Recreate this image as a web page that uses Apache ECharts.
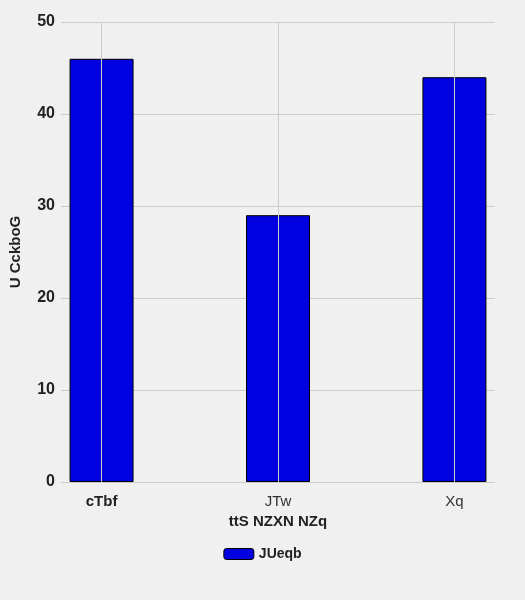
<!DOCTYPE html>
<html>
<head>
<meta charset="utf-8">
<title>Bar</title>
<script src="https://cdn.jsdelivr.net/npm/echarts@6/dist/echarts.min.js"></script>
</head>
<body style="margin:0;background:#f0f0f0">
<div id="container" style="width:525px;height:600px"></div>
<script>
var categories = ['cTbf', 'JTw', 'Xq'];
var values = [46, 29, 44];
var seriesName = 'JUeqb';
var xTitle = 'ttS NZXN NZq';
var yTitle = 'U CckboG';

var chart = echarts.init(document.getElementById('container'));
var barData = values.map(function (v, i) { return [i, v]; });
var gridLines = categories.map(function (c, i) { return {xAxis: i}; });

chart.setOption({
    backgroundColor: '#f0f0f0',
    animation: false,
    textStyle: {fontFamily: 'Liberation Sans, Arial, sans-serif'},
    grid: {left: 60, right: 30, top: 22, bottom: 118},
    legend: {
        bottom: 34, left: 'center',
        itemWidth: 30, itemHeight: 11,
        textStyle: {fontSize: 14, fontWeight: 'bold', color: '#222'},
        data: [{name: seriesName, itemStyle: {borderColor: '#000', borderWidth: 1}}]
    },
    xAxis: {
        type: 'value', min: -0.23, max: 2.23,
        name: xTitle, nameLocation: 'middle', nameGap: 32,
        nameTextStyle: {fontSize: 15, fontWeight: 'bold', color: '#222'},
        axisLine: {show: false}, axisTick: {show: false}, splitLine: {show: false},
        axisLabel: {
            customValues: [0, 1, 2], fontSize: 15, color: '#333', margin: 12,
            formatter: function (v) {
                var i = Math.round(v);
                return i === 0 ? '{b|' + categories[i] + '}' : categories[i];
            },
            rich: {b: {fontWeight: 'bold', fontSize: 15, color: '#222'}}
        }
    },
    yAxis: {
        type: 'value', min: 0, max: 50, interval: 10,
        name: yTitle, nameLocation: 'middle', nameGap: 38,
        nameTextStyle: {fontSize: 15, fontWeight: 'bold', color: '#222'},
        axisLine: {show: false}, axisTick: {show: false},
        axisLabel: {fontSize: 16, fontWeight: 'bold', color: '#222', margin: 6},
        splitLine: {lineStyle: {color: '#cccccc', width: 1}}
    },
    series: [
        {
            type: 'line', data: [], z: 1, silent: true,
            markLine: {
                silent: true, symbol: 'none', label: {show: false},
                lineStyle: {color: '#cccccc', width: 1, type: 'solid'},
                data: gridLines
            }
        },
        {
            name: seriesName, type: 'bar', z: 2, barWidth: 64,
            data: barData,
            itemStyle: {color: '#0000e0', borderColor: '#000', borderWidth: 1}
        }
    ]
});
</script>
</body>
</html>
